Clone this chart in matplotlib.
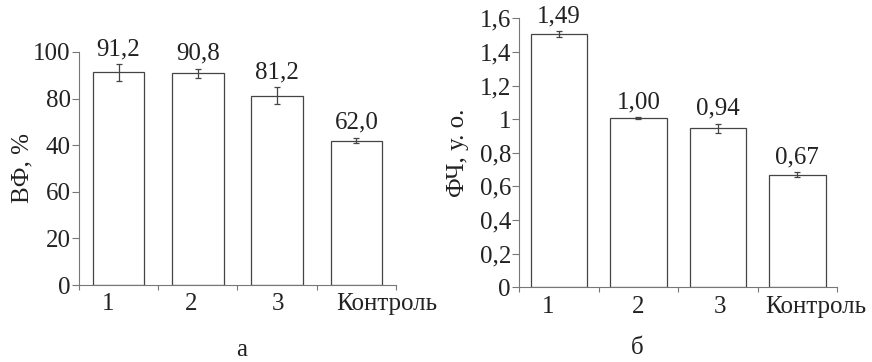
import matplotlib.pyplot as plt

plt.rcParams['font.family'] = ['Liberation Serif', 'DejaVu Serif']

groups = ['1', '2', '3', 'Контроль']

# panel a
vf_values = [91.2, 90.8, 81.2, 62.0]
vf_err = [3.5, 2.1, 3.6, 1.2]
vf_labels = ['91,2', '90,8', '81,2', '62,0']
vf_yticks = [0, 20, 40, 60, 80, 100]
vf_ytick_labels = ['0', '20', '60', '40', '80', '100']  # as printed in the source

# panel b
fch_values = [1.505, 1.005, 0.945, 0.67]
fch_err = [0.018, 0.005, 0.029, 0.014]
fch_labels = ['1,49', '1,00', '0,94', '0,67']
fch_yticks = [0, 0.2, 0.4, 0.6, 0.8, 1.0, 1.2, 1.4, 1.6]
fch_ytick_labels = ['0', '0,2', '0,4', '0,6', '0,8', '1', '1,2', '1,4', '1,6']

FS = 18
AXC = '#777777'
TXT = '#222222'


def panel(ax, values, err, labels, yticks, yticklabels, ylabel, width, xlab_pos, ymax, lpad):
    x = list(range(len(values)))
    ax.bar(x, values, width=width, color='white', edgecolor='#444444', linewidth=0.9, zorder=2)
    ax.errorbar(x, values, yerr=err, fmt='none', ecolor='#444444', elinewidth=0.9,
                capsize=2.5, capthick=0.9, zorder=3)
    for xi, v, e, lab in zip(x, values, err, labels):
        ax.annotate(lab, (xi, v + e), xytext=(0, 3), textcoords='offset points',
                    ha='center', va='bottom', fontsize=FS, color=TXT)
    ax.set_xlim(-0.5, len(values) - 0.5)
    ax.set_ylim(0, ymax)
    ax.spines['top'].set_visible(False)
    ax.spines['right'].set_visible(False)
    for s in ('left', 'bottom'):
        ax.spines[s].set_color(AXC)
        ax.spines[s].set_linewidth(0.8)
    ax.set_yticks(yticks)
    ax.set_yticklabels(yticklabels, fontsize=FS, color=TXT)
    ax.tick_params(axis='y', direction='out', length=5, width=0.8, color=AXC, pad=1)
    # category labels (major, no mark) and boundary ticks (minor)
    ax.set_xticks(xlab_pos)
    ax.set_xticklabels(groups, fontsize=FS, color=TXT)
    ax.tick_params(axis='x', which='major', length=0, pad=6)
    ax.set_xticks([i - 0.5 for i in range(len(values) + 1)], minor=True)
    ax.tick_params(axis='x', which='minor', direction='out', length=3.6, width=0.8, color=AXC)
    ax.set_ylabel(ylabel, fontsize=FS, color=TXT, labelpad=lpad)


fig = plt.figure(figsize=(8.72, 3.62), dpi=100)

ax1 = fig.add_axes([0.0906, 0.2127, 0.3635, 0.6437])
panel(ax1, vf_values, vf_err, vf_labels, vf_yticks, vf_ytick_labels, 'ВФ, %',
      0.65, [-0.13, 0.91, 2.01, 3.39], 100, 0)

ax2 = fig.add_axes([0.5955, 0.2064, 0.3644, 0.7430])
panel(ax2, fch_values, fch_err, fch_labels, fch_yticks, fch_ytick_labels, 'ФЧ, у. о.',
      0.71, [-0.14, 0.99, 2.03, 3.23], 1.6, 7.5)

fig.text(242 / 872, 1 - 350 / 362, 'а', ha='center', va='center', fontsize=FS, color=TXT)
fig.text(637 / 872, 1 - 348 / 362, 'б', ha='center', va='center', fontsize=FS, color=TXT)

fig.savefig('out.png', dpi=100)
